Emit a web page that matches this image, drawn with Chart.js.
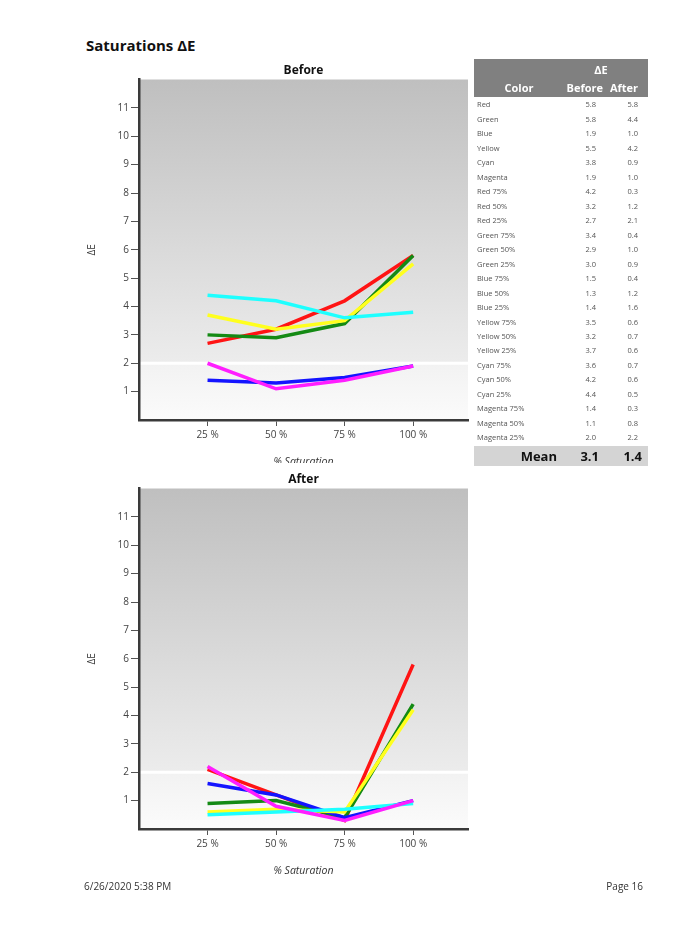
<!DOCTYPE html>
<html>
<head>
<meta charset="utf-8">
<script src="https://cdn.jsdelivr.net/npm/chart.js@4.4.1/dist/chart.umd.min.js"></script>
<style>
  html, body { margin:0; padding:0; background:#fff; }
  body { width:684px; height:929px; position:relative; overflow:hidden; font-family:"Open Sans", "Noto Sans", sans-serif; }
  .abs { position:absolute; white-space:nowrap; }
  #title { left:86px; top:35px; font-size:15px; font-weight:bold; color:#111; line-height:20px; }
  .wrap { position:absolute; left:80px; width:395px; overflow:hidden; }
  #wrapBefore { top:60px; height:403px; }
  #wrapAfter { top:469px; height:425px; }
  .wrap canvas { position:absolute; left:0; top:0; }
  #tbl { left:474px; top:59px; width:174px; height:410px; }
  .hdr { position:absolute; left:0; top:0; width:174px; height:38px; background:#808080; }
  .hcell { position:absolute; color:#fff; font-weight:bold; font-size:11px; line-height:14px; }
  .cell { position:absolute; color:#555; font-size:7.5px; line-height:14px; }
  .mean { position:absolute; left:0; top:387px; width:174px; height:20px; background:#d4d4d4; }
  .mcell { position:absolute; font-weight:bold; font-size:13px; line-height:20px; color:#111; top:0; }
  #foot1 { left:84px; top:879px; font-size:10px; color:#333; line-height:14px; }
  #foot2 { right:41px; top:879px; font-size:10px; color:#333; line-height:14px; }
</style>
</head>
<body>
<div id="title" class="abs">Saturations ΔE</div>
<div id="wrapBefore" class="wrap"><canvas id="cBefore" width="395" height="425"></canvas></div>
<div id="wrapAfter" class="wrap"><canvas id="cAfter" width="395" height="425"></canvas></div>
<div id="tbl" class="abs"></div>
<div id="foot1" class="abs">6/26/2020 5:38 PM</div>
<div id="foot2" class="abs">Page 16</div>
<script>
// ---- data ----
const saturations = [25, 50, 75, 100];          // % saturation categories
const yTickValues = [1, 2, 3, 4, 5, 6, 7, 8, 9, 10, 11];
const colorNames = ["Red", "Green", "Blue", "Yellow", "Cyan", "Magenta"];
const seriesColors = ["#ff1414", "#148a14", "#1414ff", "#ffff1e", "#1effff", "#ff1eff"];

// Before ΔE at 25 %, 50 %, 75 %, 100 %
const beforeRed     = [2.7, 3.2, 4.2, 5.8];
const beforeGreen   = [3.0, 2.9, 3.4, 5.8];
const beforeBlue    = [1.4, 1.3, 1.5, 1.9];
const beforeYellow  = [3.7, 3.2, 3.5, 5.5];
const beforeCyan    = [4.4, 4.2, 3.6, 3.8];
const beforeMagenta = [2.0, 1.1, 1.4, 1.9];

// After ΔE at 25 %, 50 %, 75 %, 100 %
const afterRed     = [2.1, 1.2, 0.3, 5.8];
const afterGreen   = [0.9, 1.0, 0.4, 4.4];
const afterBlue    = [1.6, 1.2, 0.4, 1.0];
const afterYellow  = [0.6, 0.7, 0.6, 4.2];
const afterCyan    = [0.5, 0.6, 0.7, 0.9];
const afterMagenta = [2.2, 0.8, 0.3, 1.0];

const beforeSeries = [beforeRed, beforeGreen, beforeBlue, beforeYellow, beforeCyan, beforeMagenta];
const afterSeries  = [afterRed, afterGreen, afterBlue, afterYellow, afterCyan, afterMagenta];

// ---- chart ----
const bgPlugin = {
  id: 'plotBg',
  beforeDraw(chart) {
    const {ctx, chartArea: a, scales: {y}} = chart;
    const y2 = y.getPixelForValue(2);
    ctx.save();
    let g = ctx.createLinearGradient(0, a.top, 0, y2);
    g.addColorStop(0, '#bfbfbf');
    g.addColorStop(1, '#ececec');
    ctx.fillStyle = g;
    ctx.fillRect(a.left, a.top, a.right - a.left, y2 - a.top);
    g = ctx.createLinearGradient(0, y2, 0, a.bottom);
    g.addColorStop(0, '#f2f2f2');
    g.addColorStop(1, '#fbfbfb');
    ctx.fillStyle = g;
    ctx.fillRect(a.left, y2, a.right - a.left, a.bottom - y2);
    ctx.fillStyle = '#ffffff';
    ctx.fillRect(a.left, y2 - 1.5, a.right - a.left, 3);
    ctx.restore();
  }
};

function makeChart(id, title, series) {
  const datasets = series.map((vals, i) => ({
    label: colorNames[i],
    data: saturations.map((s, j) => ({x: s, y: vals[j]})),
    borderColor: seriesColors[i],
    backgroundColor: seriesColors[i],
    borderWidth: 3.5,
    pointRadius: 0,
    tension: 0,
    order: series.length - i
  }));
  return new Chart(document.getElementById(id), {
    type: 'line',
    data: { datasets },
    plugins: [bgPlugin],
    options: {
      responsive: false,
      animation: false,
      events: [],
      layout: { padding: { left: 0, right: 7, top: 0, bottom: 0 } },
      plugins: {
        legend: { display: false },
        tooltip: { enabled: false },
        title: {
          display: true, text: title, fullSize: false,
          color: '#111', font: { family: '"Open Sans"', size: 12, weight: 'bold', lineHeight: 1.2 },
          padding: { top: 3, bottom: 2.1 }
        }
      },
      scales: {
        x: {
          type: 'linear', min: 0, max: 120,
          afterBuildTicks: s => { s.ticks = saturations.map(v => ({value: v})); },
          afterFit: s => { s.height = 65; },
          ticks: { callback: v => v + ' %', color: '#444', font: { family: '"Open Sans"', size: 10 }, padding: 3, maxRotation: 0 },
          grid: { drawOnChartArea: false, drawTicks: true, tickLength: 6, tickColor: '#555', tickWidth: 1 },
          border: { display: true, color: '#3a3a3a', width: 2.5 },
          title: { display: true, text: '% Saturation', color: '#333',
                   font: { family: '"Open Sans"', size: 10.5, style: 'italic', lineHeight: 1.2 },
                   padding: { top: 0, bottom: 17 } }
        },
        y: {
          type: 'linear', min: 0, max: 12,
          afterBuildTicks: s => { s.ticks = yTickValues.map(v => ({value: v})); },
          afterFit: s => { s.width = 59; },
          ticks: { color: '#444', font: { family: '"Open Sans"', size: 10 }, padding: 2 },
          grid: { drawOnChartArea: false, drawTicks: true, tickLength: 8, tickColor: '#555', tickWidth: 1 },
          border: { display: true, color: '#3a3a3a', width: 2.5 },
          title: { display: true, text: 'ΔE', color: '#333',
                   font: { family: '"Open Sans"', size: 10, lineHeight: 1.2 },
                   padding: { top: 6, bottom: 0 } }
        }
      }
    }
  });
}
makeChart('cBefore', 'Before', beforeSeries);
makeChart('cAfter', 'After', afterSeries);

// ---- table ----
const tbl = document.getElementById('tbl');
function add(cls, text, css) {
  const d = document.createElement('div');
  d.className = cls; d.textContent = text;
  Object.assign(d.style, css);
  tbl.appendChild(d);
  return d;
}
const hdr = document.createElement('div'); hdr.className = 'hdr'; tbl.appendChild(hdr);
add('hcell', 'ΔE', { left: '110px', width: '34px', textAlign: 'center', top: '4px' });
add('hcell', 'Color', { left: '20px', width: '50px', textAlign: 'center', top: '22px' });
add('hcell', 'Before', { right: '45px', top: '22px' });
add('hcell', 'After', { right: '10px', top: '22px' });

const rows = [];
colorNames.forEach((n, i) => rows.push([n, beforeSeries[i][3], afterSeries[i][3]]));
colorNames.forEach((n, i) => {
  [2, 1, 0].forEach(j => rows.push([n + ' ' + saturations[j] + '%', beforeSeries[i][j], afterSeries[i][j]]));
});
rows.forEach((r, k) => {
  const top = (38.3 + k * 14.48) + 'px';
  add('cell', r[0], { left: '3px', top });
  add('cell', r[1].toFixed(1), { right: '52px', top });
  add('cell', r[2].toFixed(1), { right: '10px', top });
});
const all = (arrs) => arrs.flat();
const meanB = all(beforeSeries).reduce((a, b) => a + b, 0) / all(beforeSeries).length;
const meanA = all(afterSeries).reduce((a, b) => a + b, 0) / all(afterSeries).length;
const m = document.createElement('div'); m.className = 'mean'; tbl.appendChild(m);
add('mcell', 'Mean', { right: '91px', top: '387px' });
add('mcell', meanB.toFixed(1), { right: '49px', top: '387px' });
add('mcell', meanA.toFixed(1), { right: '6px', top: '387px' });
</script>
</body>
</html>
